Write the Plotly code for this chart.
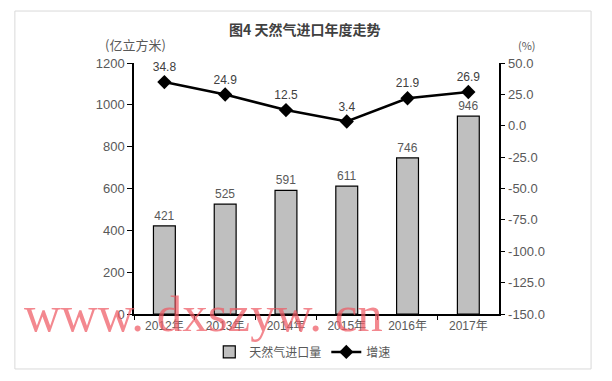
import plotly.graph_objects as go
from plotly.subplots import make_subplots

years = ["2012年", "2013年", "2014年", "2015年", "2016年", "2017年"]
imports = [421, 525, 591, 611, 746, 946]
growth = [34.8, 24.9, 12.5, 3.4, 21.9, 26.9]

left_ticks = [0, 200, 400, 600, 800, 1000, 1200]
right_ticks = [50, 25, 0, -25, -50, -75, -100, -125, -150]
right_text = [f"{v:.1f}" for v in right_ticks]

FONT = "Liberation Sans, Noto Sans CJK SC, sans-serif"
GRAY = "#595959"

fig = make_subplots(specs=[[{"secondary_y": True}]])
fig.add_trace(go.Bar(
    x=years, y=imports, name="天然气进口量",
    marker=dict(color="#BFBFBF", line=dict(color="#000000", width=1.2)),
    text=[str(v) for v in imports], textposition="outside",
    textfont=dict(size=12, color=GRAY, family=FONT), cliponaxis=False,
), secondary_y=False)
fig.add_trace(go.Scatter(
    x=years, y=growth, name="增速", mode="lines+markers+text",
    line=dict(color="#000000", width=2.5),
    marker=dict(symbol="diamond", size=11, color="#000000"),
    text=[f"{v:.1f}" for v in growth], textposition="top center",
    textfont=dict(size=12, color="#404040", family=FONT), cliponaxis=False,
), secondary_y=True)

fig.update_layout(
    width=612, height=381,
    margin=dict(l=126, r=98, t=55, b=75),
    paper_bgcolor="white", plot_bgcolor="white",
    bargap=0.64,
    font=dict(family=FONT, size=12, color=GRAY),
    showlegend=True,
    legend=dict(orientation="h", x=0.435, xanchor="center", y=-0.151, yanchor="middle",
                font=dict(size=12, color=GRAY, family="Noto Sans CJK SC"),
                tracegroupgap=0),
    title=dict(text="<b>图4 天然气进口年度走势</b>", x=0.485, xanchor="center",
               y=0.942, yanchor="middle",
               font=dict(size=14, color="#404040", family="Noto Sans CJK SC")),
)
fig.update_xaxes(showline=True, linecolor="#000000", linewidth=1.5,
                 ticks="outside", ticklen=4, tickcolor="#000000", tickson="boundaries",
                 tickfont=dict(size=12, color=GRAY, family=FONT), showgrid=False)
fig.update_yaxes(range=[0, 1200], tickvals=left_ticks, showline=True,
                 linecolor="#000000", linewidth=1.5, ticks="outside", ticklen=5,
                 tickcolor="#000000", showgrid=False, zeroline=False,
                 tickfont=dict(size=13, color=GRAY, family=FONT), secondary_y=False)
fig.update_yaxes(range=[-150, 50], tickvals=right_ticks, ticktext=right_text,
                 showline=True, linecolor="#000000", linewidth=1.5, ticks="outside",
                 ticklen=5, tickcolor="#000000", showgrid=False, zeroline=False,
                 tickfont=dict(size=13, color=GRAY, family=FONT), secondary_y=True)

fig.add_annotation(text="(亿立方米)", xref="paper", yref="paper", x=0.003, y=1.072,
                   xanchor="center", yanchor="middle", showarrow=False,
                   font=dict(size=13, color=GRAY, family="Noto Sans CJK SC"))
fig.add_annotation(text="(%)", xref="paper", yref="paper", x=1.013, y=1.072,
                   xanchor="center", yanchor="middle", showarrow=False,
                   font=dict(size=11, color=GRAY, family="Noto Sans CJK SC"))
fig.add_annotation(text="www. dxszyw. cn", xref="paper", yref="paper", x=-0.289, y=-0.12,
                   xanchor="left", yanchor="bottom", showarrow=False,
                   font=dict(size=51, color="rgba(238,90,100,0.72)", family="Liberation Serif"))
fig.add_shape(type="rect", xref="paper", yref="paper", x0=-0.307, x1=1.178,
              y0=-0.219, y1=1.207, line=dict(color="#D9D9D9", width=1), layer="below")

fig.write_html("out.html")
